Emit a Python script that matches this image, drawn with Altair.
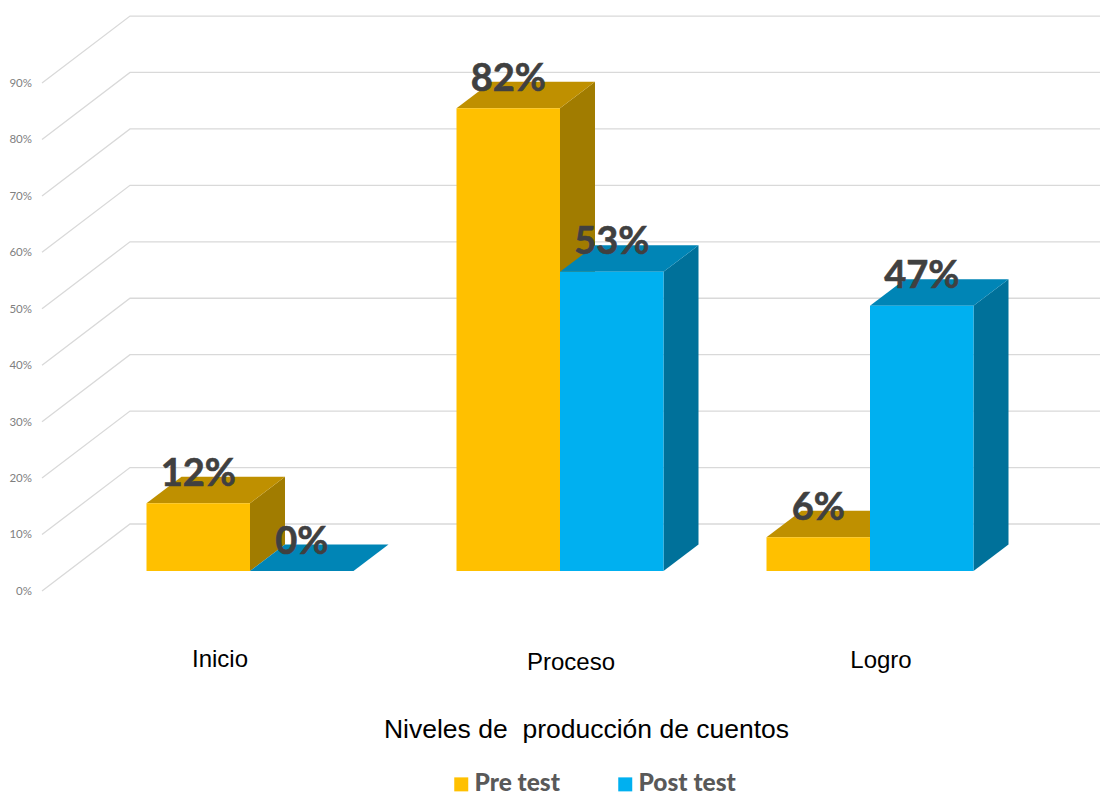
import altair as alt
import pandas as pd

# Values shown on the chart, in percent
categories = ["Inicio", "Proceso", "Logro"]
series = ["Pre test", "Post test"]
pre_test = [12, 82, 6]
post_test = [0, 53, 47]
wall_ticks = [0, 10, 20, 30, 40, 50, 60, 70, 80, 90]

# Projection settings for the pseudo-3D drawing
W, H = 1100, 792
BASE_PX = 571            # pixel row of the bars' front base
PX_PER_PCT = 5.644
BAR_W = 103.5
GROUP_LEFT = [146.5, 456.5, 766.5]
DEPTH_X = 35
DEPTH_Y = 26.5 / PX_PER_PCT
WALL_X = 130
WALL_RIGHT = 1100
FRONT_X = 42
WALL_ZERO = 8.33         # back-wall height of the 0% gridline
FRONT_ZERO = -3.54       # left-edge height of the 0% gridline
TICK_LABEL_NUDGE = -0.15 # tick labels sit slightly under their gridline ends
CATEGORY_Y = [-15.75, -16.3, -15.95]
CATEGORY_X = [220, 571, 881]

COLORS = {
    "Pre test": {"front": "#FFC000", "top": "#BF9000", "side": "#A17C00"},
    "Post test": {"front": "#00B0F0", "top": "#0085B6", "side": "#00719A"},
}

x_scale = alt.Scale(domain=[0, W], range=[0, W], nice=False, zero=False)
y_scale = alt.Scale(
    domain=[(BASE_PX - H) / PX_PER_PCT, BASE_PX / PX_PER_PCT],
    range=[H, 0], nice=False, zero=False,
)
X = lambda f: alt.X(f, type="quantitative", scale=x_scale, axis=None)
Y = lambda f: alt.Y(f, type="quantitative", scale=y_scale, axis=None)

# Back-wall gridlines with their slanted run towards the labels
grid_rows = []
for t in wall_ticks:
    grid_rows += [
        {"tick": t, "step": 0, "x": FRONT_X, "y": FRONT_ZERO + t},
        {"tick": t, "step": 1, "x": WALL_X, "y": WALL_ZERO + t},
        {"tick": t, "step": 2, "x": WALL_RIGHT, "y": WALL_ZERO + t},
    ]
grid = alt.Chart(pd.DataFrame(grid_rows)).mark_line(
    color="#D9D9D9", strokeWidth=1.3
).encode(x=X("x"), y=Y("y"), detail="tick:N", order="step:Q")

tick_labels = alt.Chart(pd.DataFrame({
    "label": [f"{t}%" for t in wall_ticks],
    "x": [32] * len(wall_ticks),
    "y": [FRONT_ZERO + TICK_LABEL_NUDGE + t for t in wall_ticks],
})).mark_text(
    align="right", baseline="middle", font="Lato", fontSize=11.5, color="#7F7F7F"
).encode(x=X("x"), y=Y("y"), text="label:N")

# One row per bar
bars = []
for i, cat in enumerate(categories):
    for j, (name, vals) in enumerate(zip(series, (pre_test, post_test))):
        left = GROUP_LEFT[i] + j * BAR_W
        bars.append({
            "category": cat, "series": name, "value": vals[i],
            "left": left, "right": left + BAR_W,
        })
bars = pd.DataFrame(bars)

layers = [grid, tick_labels]
for name in series:
    sub = bars[bars["series"] == name]
    side_rows, top_rows = [], []
    for _, b in sub.iterrows():
        side_rows += [
            {"category": b["category"], "x": b["right"], "y": 0, "y2": b["value"]},
            {"category": b["category"], "x": b["right"] + DEPTH_X,
             "y": DEPTH_Y, "y2": b["value"] + DEPTH_Y},
        ]
        top_rows += [
            {"category": b["category"], "y": b["value"], "x": b["left"], "x2": b["right"]},
            {"category": b["category"], "y": b["value"] + DEPTH_Y,
             "x": b["left"] + DEPTH_X, "x2": b["right"] + DEPTH_X},
        ]
    layers.append(
        alt.Chart(pd.DataFrame(side_rows)).mark_area(
            color=COLORS[name]["side"], orient="vertical"
        ).encode(x=X("x"), y=Y("y"), y2="y2:Q", detail="category:N")
    )
    layers.append(
        alt.Chart(pd.DataFrame(top_rows)).mark_area(
            color=COLORS[name]["top"], orient="horizontal"
        ).encode(y=Y("y"), x=X("x"), x2="x2:Q", detail="category:N")
    )
    layers.append(
        alt.Chart(sub.assign(zero=0)).mark_rect().encode(
            x=X("left"), x2="right:Q", y=Y("zero"), y2="value:Q",
            color=alt.Color(
                "series:N",
                scale=alt.Scale(domain=series,
                                range=[COLORS[s]["front"] for s in series]),
                legend=alt.Legend(
                    title=None, orient="none", legendX=449, legendY=772,
                    direction="horizontal", symbolType="square", symbolSize=196,
                    symbolStrokeWidth=0, labelFont="Lato", labelFontWeight=900,
                    labelFontSize=24.5, labelColor="#595959", labelOffset=1,
                    columnPadding=53,
                ),
            ),
        )
    )

# Value labels sit just above each bar's rear top edge
value_labels = alt.Chart(bars.assign(
    cx=bars["left"] + BAR_W / 2,
    ly=bars["value"] + DEPTH_Y + 0.35,
    label=bars["value"].map(lambda v: f"{v}%"),
)).mark_text(
    align="center", baseline="middle", font="Lato", fontWeight="bold",
    fontSize=38, color="#404040", stroke="#404040", strokeWidth=0.6,
).encode(x=X("cx"), y=Y("ly"), text="label:N")
layers.append(value_labels)

category_labels = alt.Chart(pd.DataFrame({
    "label": categories, "x": CATEGORY_X, "y": CATEGORY_Y,
})).mark_text(
    align="center", baseline="middle", font="Liberation Sans", fontSize=24,
    color="#000000",
).encode(x=X("x"), y=Y("y"), text="label:N")
layers.append(category_labels)

axis_title = alt.Chart(pd.DataFrame({
    "label": ["Niveles de\u00a0\u00a0producción de cuentos"], "x": [586.5], "y": [-28.2],
})).mark_text(
    align="center", baseline="middle", font="Liberation Sans", fontSize=26.5,
    color="#000000",
).encode(x=X("x"), y=Y("y"), text="label:N")
layers.append(axis_title)

chart = alt.layer(*layers).properties(
    width=W, height=H, padding=0,
    autosize=alt.AutoSizeParams(type="none"),
    background="#FFFFFF",
).configure_view(stroke=None)

chart.save("out.html", embed_options={"renderer": "svg", "actions": False})
